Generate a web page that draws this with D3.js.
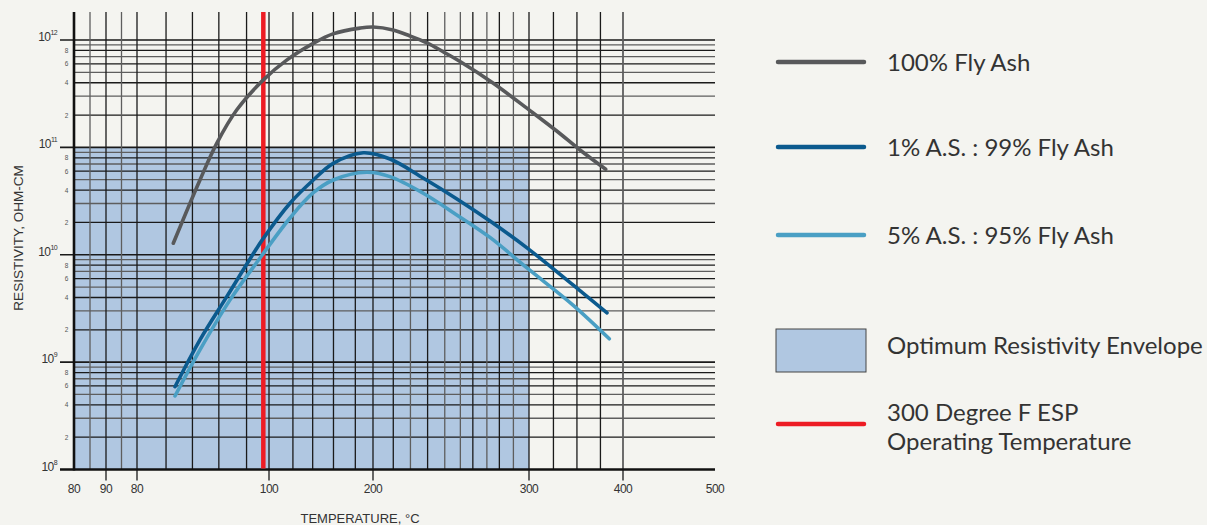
<!DOCTYPE html>
<html>
<head>
<meta charset="utf-8">
<script src="https://cdn.jsdelivr.net/npm/d3@7"></script>
<style>
  body { margin: 0; background: #f4f4f0; }
  svg { display: block; }
</style>
</head>
<body>
<svg></svg>
<script>
// chart values (x is measured in tick-label steps along the drawn axis)
const xTickLabels = ["80", "90", "80", "100", "200", "300", "400", "500"];
const xMinorGrid = [0.5, 1.5, 2.22, 2.42, 2.62, 2.83, 3.23, 3.42, 3.62, 3.83,
  4.13, 4.24, 4.35, 4.46, 4.56, 4.64, 4.73, 4.81, 4.9, 5.26, 5.51, 5.76];
const yDecades = [1e8, 1e9, 1e10, 1e11, 1e12];
const yMinorLabels = [2, 4, 6, 8];

const flyAsh100 = [[2.275, 1.28e10], [2.477, 4.97e10], [2.604, 1.09e11], [2.755, 2.23e11],
  [2.957, 4.25e11], [3.17, 6.5e11], [3.426, 9.3e11], [3.615, 1.14e12], [3.875, 1.29e12],
  [4.0, 1.32e12], [4.128, 1.24e12], [4.237, 1.09e12], [4.346, 9.38e11], [4.449, 7.78e11],
  [4.558, 6.31e11], [4.769, 3.98e11], [5.011, 2.2e11], [5.295, 1.42e11],
  [5.543, 9.46e10], [5.816, 6.25e10]];
const as1 = [[2.288, 5.9e8], [2.477, 1.61e9], [2.68, 4.07e9], [2.856, 9.13e9], [2.957, 1.42e10],
  [3.202, 3.02e10], [3.426, 4.97e10], [3.618, 7.1e10], [3.907, 8.9e10], [4.109, 7.79e10],
  [4.321, 5.19e10], [4.538, 3.31e10], [4.75, 2.06e10], [4.987, 1.16e10], [5.468, 5.23e9],
  [5.83, 2.88e9]];
const as5 = [[2.288, 4.84e8], [2.477, 1.3e9], [2.705, 3.8e9], [2.932, 9.33e9], [3.202, 2.2e10],
  [3.423, 3.76e10], [3.618, 4.97e10], [3.939, 5.86e10], [4.109, 5.34e10], [4.322, 3.74e10],
  [4.537, 2.35e10], [4.75, 1.45e10], [4.987, 7.53e9], [5.468, 3.4e9], [5.854, 1.65e9]];
const espTemp = 2.957;
const envelope = { x0: 0, x1: 5, y0: 1e8, y1: 1e11 };

const series = [
  { name: "100% Fly Ash", values: flyAsh100, color: "#58595b" },
  { name: "1% A.S. : 99% Fly Ash", values: as1, color: "#0b5a8e" },
  { name: "5% A.S. : 95% Fly Ash", values: as5, color: "#4a9fc4" }
];

const width = 1207, height = 525;
const plotTop = 12;

const svg = d3.select("svg")
  .attr("width", width)
  .attr("height", height);

// hand-drawn x axis: tick steps are not evenly spaced
const x = d3.scaleLinear()
  .domain(d3.range(xTickLabels.length))
  .range([74, 106, 137, 269, 373, 529, 623, 715]);

const y = d3.scaleLog()
  .domain([1e8, 1e12])
  .range([469.5, 40]);

// optimum envelope
svg.append("rect")
  .attr("x", x(envelope.x0))
  .attr("y", y(envelope.y1))
  .attr("width", x(envelope.x1) - x(envelope.x0))
  .attr("height", y(envelope.y0) - y(envelope.y1))
  .attr("fill", "#b0c7e1");

// horizontal grid
const hLines = [];
yDecades.slice(0, -1).forEach(d => {
  for (let k = 2; k <= 9; k++) hLines.push({ v: d * k, grey: k % 2 === 1 });
});
svg.append("g").selectAll("line")
  .data(hLines)
  .join("line")
  .attr("x1", x(0)).attr("x2", x(7))
  .attr("y1", d => y(d.v)).attr("y2", d => y(d.v))
  .attr("stroke", d => d.grey ? "#5e5e5e" : "#1a1a1a")
  .attr("stroke-width", 1.3);

svg.append("g").selectAll("line")
  .data(yDecades.slice(1))
  .join("line")
  .attr("x1", 60).attr("x2", x(7))
  .attr("y1", d => y(d)).attr("y2", d => y(d))
  .attr("stroke", "#1a1a1a")
  .attr("stroke-width", 1.6);

// vertical grid
const greyV = [0.5, 1.5, 4.24, 4.46, 4.56, 4.73, 4.9, 6];
const vLines = xMinorGrid.concat(d3.range(1, 7)).sort((a, b) => a - b);
svg.append("g").selectAll("line")
  .data(vLines)
  .join("line")
  .attr("x1", d => x(d)).attr("x2", d => x(d))
  .attr("y1", plotTop).attr("y2", y(1e8))
  .attr("stroke", d => greyV.includes(d) ? "#5e5e5e" : "#1a1a1a")
  .attr("stroke-width", d => d === 6 ? 1.8 : 1.3);

// x tick marks below the axis
svg.append("g").selectAll("line")
  .data(d3.range(1, 7))
  .join("line")
  .attr("x1", d => x(d)).attr("x2", d => x(d))
  .attr("y1", y(1e8)).attr("y2", y(1e8) + 11)
  .attr("stroke", "#1a1a1a")
  .attr("stroke-width", 1.3);

// axes
svg.append("line")
  .attr("x1", x(0)).attr("x2", x(0))
  .attr("y1", plotTop).attr("y2", y(1e8) + 1)
  .attr("stroke", "#111").attr("stroke-width", 2.6);
svg.append("line")
  .attr("x1", 60).attr("x2", x(7))
  .attr("y1", y(1e8)).attr("y2", y(1e8))
  .attr("stroke", "#111").attr("stroke-width", 2.6);

// ESP operating temperature
svg.append("line")
  .attr("x1", x(espTemp)).attr("x2", x(espTemp))
  .attr("y1", plotTop).attr("y2", y(1e8) - 1)
  .attr("stroke", "#ed1c24")
  .attr("stroke-width", 4.5);

// curves
const line = d3.line()
  .x(d => x(d[0]))
  .y(d => y(d[1]))
  .curve(d3.curveCatmullRom.alpha(0.5));

svg.append("g").selectAll("path")
  .data(series)
  .join("path")
  .attr("d", d => line(d.values))
  .attr("fill", "none")
  .attr("stroke", d => d.color)
  .attr("stroke-width", 3.6)
  .attr("stroke-linecap", "round");

// y labels
const yLab = svg.append("g")
  .attr("font-family", "Liberation Sans, Arial, sans-serif")
  .attr("fill", "#333");
const dec = yLab.selectAll("text.dec")
  .data(yDecades)
  .join("text")
  .attr("class", "dec")
  .attr("x", 57)
  .attr("y", d => y(d) + 1)
  .attr("text-anchor", "end")
  .attr("font-size", 12)
  .attr("letter-spacing", -0.6);
dec.append("tspan").text("10");
dec.append("tspan")
  .attr("font-size", 7)
  .attr("dy", -6)
  .text(d => Math.round(Math.log10(d)));

const minor = [];
yDecades.slice(0, -1).forEach(d => yMinorLabels.forEach(k => minor.push({ v: d * k, k })));
yLab.selectAll("text.minor")
  .data(minor)
  .join("text")
  .attr("class", "minor")
  .attr("x", 66.5)
  .attr("y", d => y(d.v) + 2.5)
  .attr("text-anchor", "middle")
  .attr("font-size", 6.5)
  .attr("fill", "#555")
  .text(d => d.k);

// x labels
svg.append("g").selectAll("text")
  .data(xTickLabels)
  .join("text")
  .attr("x", (d, i) => x(i))
  .attr("y", 493)
  .attr("text-anchor", "middle")
  .attr("font-family", "Liberation Sans, Arial, sans-serif")
  .attr("font-size", 12)
  .attr("letter-spacing", -0.5)
  .attr("fill", "#333")
  .text(d => d);

// axis titles
svg.append("text")
  .attr("x", 360).attr("y", 523)
  .attr("text-anchor", "middle")
  .attr("font-family", "Liberation Sans, Arial, sans-serif")
  .attr("font-size", 13)
  .attr("fill", "#333")
  .text("TEMPERATURE, °C");

svg.append("text")
  .attr("transform", "translate(23,238) rotate(-90)")
  .attr("text-anchor", "middle")
  .attr("font-family", "Liberation Sans, Arial, sans-serif")
  .attr("font-size", 13.5)
  .attr("fill", "#333")
  .text("RESISTIVITY, OHM-CM");

// legend
const legend = svg.append("g")
  .attr("font-family", "Lato, sans-serif")
  .attr("font-size", 24)
  .attr("fill", "#333");

const legY = [62, 147, 235];
series.forEach((s, i) => {
  legend.append("line")
    .attr("x1", 778).attr("x2", 864)
    .attr("y1", legY[i]).attr("y2", legY[i])
    .attr("stroke", s.color)
    .attr("stroke-width", 4.5)
    .attr("stroke-linecap", "round");
  legend.append("text")
    .attr("x", 887).attr("y", legY[i] + 9)
    .text(s.name);
});

legend.append("rect")
  .attr("x", 776).attr("y", 329)
  .attr("width", 90).attr("height", 43)
  .attr("fill", "#b0c7e1")
  .attr("stroke", "#444")
  .attr("stroke-width", 1);
legend.append("text")
  .attr("x", 887).attr("y", 354)
  .text("Optimum Resistivity Envelope");

legend.append("line")
  .attr("x1", 778).attr("x2", 864)
  .attr("y1", 424).attr("y2", 424)
  .attr("stroke", "#ed1c24")
  .attr("stroke-width", 4.5)
  .attr("stroke-linecap", "round");
legend.append("text")
  .attr("x", 887).attr("y", 421)
  .text("300 Degree F ESP");
legend.append("text")
  .attr("x", 887).attr("y", 450)
  .text("Operating Temperature");
</script>
</body>
</html>
